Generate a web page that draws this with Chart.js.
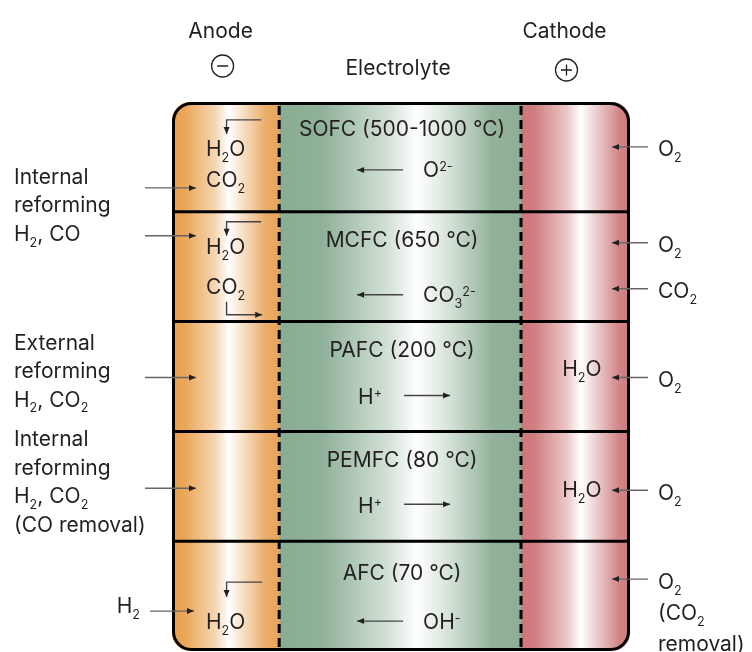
<!DOCTYPE html>
<html>
<head>
<meta charset="utf-8">
<script src="https://cdn.jsdelivr.net/npm/chart.js@4"></script>
<style>
    body { margin: 0; background: #fff; }
</style>
</head>
<body>
<canvas id="cells" width="752" height="652"></canvas>
<script>
// ─── Data ─────────────────────────────────────────────────────────────────────
const cellTypes = ['SOFC', 'MCFC', 'PAFC', 'PEMFC', 'AFC'];
const temperatures = ['500-1000 °C', '650 °C', '200 °C', '80 °C', '70 °C'];
const ions = ['O^{2-}', 'CO_3^{2-}', 'H^+', 'H^+', 'OH^-'];
const ionDirection = [-1, -1, 1, 1, -1];          // -1 = moves towards the anode
const layers = ['Anode', 'Electrolyte', 'Cathode'];
const anodeSpan = [0, 23.4];                      // share of cell width (%)
const electrolyteSpan = [23.4, 76.2];
const cathodeSpan = [76.2, 100];
const anodeProducts = [['H_2O', 'CO_2'], ['H_2O', 'CO_2'], [], [], ['H_2O']];
const co2Recycle = [false, true, false, false, false];
const cathodeFeeds = [['O_2'], ['O_2', 'CO_2'], ['O_2'], ['O_2'], ['O_2']];
const cathodeNotes = ['', '', '', '', '(CO_2 removal)'];
const cathodeProducts = ['', '', 'H_2O', 'H_2O', ''];
const feedLabels = [
    ['Internal', 'reforming', 'H_2, CO'],
    ['External', 'reforming', 'H_2, CO_2'],
    ['Internal', 'reforming', 'H_2, CO_2', '(CO removal)'],
    ['H_2']
];
const feedRows = [[0, 1], [2], [3], [4]];

// ─── Helpers ──────────────────────────────────────────────────────────────────
const INK = '#231f20';
const FONT = '"Inter", "Noto Sans", sans-serif';
const SIZE = 21;

function layerFill(stops) {
    return (c) => {
        const chart = c.chart;
        const span = c.dataset.data[c.dataIndex];
        if (!chart.chartArea || !span) return stops[0][1];
        const xs = chart.scales.x;
        const g = chart.ctx.createLinearGradient(xs.getPixelForValue(span[0]), 0, xs.getPixelForValue(span[1]), 0);
        stops.forEach(([o, col]) => g.addColorStop(o, col));
        return g;
    };
}

function parseChem(str) {
    const parts = [];
    let i = 0, buf = '';
    while (i < str.length) {
        const ch = str[i];
        if (ch === '_' || ch === '^') {
            if (buf) { parts.push({ t: buf, m: 'n' }); buf = ''; }
            let txt;
            if (str[i + 1] === '{') {
                const j = str.indexOf('}', i);
                txt = str.slice(i + 2, j);
                i = j + 1;
            } else {
                txt = str[i + 1];
                i += 2;
            }
            parts.push({ t: txt, m: ch === '_' ? 'sub' : 'sup' });
        } else { buf += ch; i++; }
    }
    if (buf) parts.push({ t: buf, m: 'n' });
    return parts;
}

// y = visual middle of the capitals
function chem(ctx, str, x, y, align = 'center', size = SIZE) {
    const parts = parseChem(str);
    const small = size * 0.6;
    const widths = parts.map(p => {
        ctx.font = `${p.m === 'n' ? size : small}px ${FONT}`;
        return ctx.measureText(p.t).width;
    });
    const total = widths.reduce((a, b) => a + b, 0);
    let cx = align === 'center' ? x - total / 2 : align === 'right' ? x - total : x;
    const base = y + size * 0.36;
    ctx.fillStyle = INK;
    ctx.textAlign = 'left';
    ctx.textBaseline = 'alphabetic';
    parts.forEach((p, k) => {
        ctx.font = `${p.m === 'n' ? size : small}px ${FONT}`;
        let by = base;
        if (p.m === 'sub') by = base + size * 0.28;
        if (p.m === 'sup') by = base - size * 0.32;
        ctx.fillText(p.t, cx, by);
        cx += widths[k];
    });
}

function arrow(ctx, pts, lineCol = '#444', headCol = INK) {
    ctx.save();
    ctx.strokeStyle = lineCol;
    ctx.lineWidth = 1.4;
    ctx.beginPath();
    ctx.moveTo(pts[0][0], pts[0][1]);
    pts.slice(1).forEach(p => ctx.lineTo(p[0], p[1]));
    ctx.stroke();
    const [x1, y1] = pts[pts.length - 1];
    const [x0, y0] = pts[pts.length - 2];
    const a = Math.atan2(y1 - y0, x1 - x0);
    ctx.fillStyle = headCol;
    ctx.beginPath();
    ctx.moveTo(x1, y1);
    ctx.lineTo(x1 - 7 * Math.cos(a) + 3 * Math.sin(a), y1 - 7 * Math.sin(a) - 3 * Math.cos(a));
    ctx.lineTo(x1 - 7 * Math.cos(a) - 3 * Math.sin(a), y1 - 7 * Math.sin(a) + 3 * Math.cos(a));
    ctx.closePath();
    ctx.fill();
    ctx.restore();
}

// ─── Frame + labels plugin ────────────────────────────────────────────────────
const RADIUS = 18;

const cellFrame = {
    id: 'cellFrame',
    beforeDatasetsDraw(chart) {
        const { ctx, chartArea: a } = chart;
        ctx.save();
        ctx.beginPath();
        ctx.roundRect(a.left, a.top, a.right - a.left, a.bottom - a.top, RADIUS);
        ctx.clip();
    },
    afterDatasetsDraw(chart) {
        const { ctx, chartArea: a } = chart;
        ctx.restore();
        const xs = chart.scales.x, ys = chart.scales.y;

        // row separators
        ctx.save();
        ctx.strokeStyle = '#000';
        ctx.lineWidth = 3;
        for (let i = 0; i < cellTypes.length - 1; i++) {
            const y = (ys.getPixelForValue(i) + ys.getPixelForValue(i + 1)) / 2;
            ctx.beginPath();
            ctx.moveTo(a.left, y);
            ctx.lineTo(a.right, y);
            ctx.stroke();
        }
        // dashed electrode / electrolyte boundaries
        ctx.setLineDash([9, 5]);
        [anodeSpan[1], cathodeSpan[0]].forEach(v => {
            const x = xs.getPixelForValue(v);
            ctx.beginPath();
            ctx.moveTo(x, a.top + 4);
            ctx.lineTo(x, a.bottom);
            ctx.stroke();
        });
        ctx.setLineDash([]);
        ctx.beginPath();
        ctx.roundRect(a.left + 1.5, a.top + 1.5, a.right - a.left - 3, a.bottom - a.top - 3, RADIUS);
        ctx.stroke();
        ctx.restore();
    },
    afterDraw(chart) {
        const { ctx, chartArea: a } = chart;
        const xs = chart.scales.x, ys = chart.scales.y;
        const aL = xs.getPixelForValue(anodeSpan[0]);
        const aR = xs.getPixelForValue(anodeSpan[1]);
        const aMid = (aL + aR) / 2;
        const eMid = (xs.getPixelForValue(electrolyteSpan[0]) + xs.getPixelForValue(electrolyteSpan[1])) / 2;
        const cMid = (xs.getPixelForValue(cathodeSpan[0]) + xs.getPixelForValue(cathodeSpan[1])) / 2;
        const cR = xs.getPixelForValue(cathodeSpan[1]);
        const cy = i => ys.getPixelForValue(i);

        // header
        chem(ctx, layers[0], aMid - 5, 30);
        chem(ctx, layers[1], eMid - 2, 67);
        chem(ctx, layers[2], cMid - 11, 30);
        ctx.save();
        ctx.strokeStyle = INK;
        ctx.lineWidth = 1.3;
        [[aMid - 3, 66, false], [cMid - 9, 70, true]].forEach(([x, y, plus]) => {
            ctx.beginPath();
            ctx.arc(x, y, 11, 0, Math.PI * 2);
            ctx.moveTo(x - 5.5, y);
            ctx.lineTo(x + 5.5, y);
            if (plus) { ctx.moveTo(x, y - 5.5); ctx.lineTo(x, y + 5.5); }
            ctx.stroke();
        });
        ctx.restore();

        const titleDy = [-28, -27, -27, -27, -24];
        const ionDy = [13, 28, 20, 19, 25];
        const feedDy = [31, -31, 1, 2, 15];
        const cathodeDy = [[-10], [-24, 22], [1], [4], [-17]];
        const cathodeOutDy = [0, 0, -8, 3, 0];

        cellTypes.forEach((name, i) => {
            const yc = cy(i);
            // electrolyte
            chem(ctx, `${name} (${temperatures[i]})`, eMid + 2, yc + titleDy[i]);
            const iy = yc + ionDy[i];
            if (ionDirection[i] < 0) {
                arrow(ctx, [[eMid + 3, iy], [eMid - 43, iy]]);
                chem(ctx, ions[i], eMid + 23, iy, 'left');
            } else {
                chem(ctx, ions[i], eMid - 30, iy, 'center');
                arrow(ctx, [[eMid + 4, iy - 1], [eMid + 50, iy - 1]]);
            }

            // anode products
            const prods = anodeProducts[i];
            if (prods.length === 2) {
                const top = co2Recycle[i] ? -45 : -37;
                const d1 = co2Recycle[i] ? -20 : -8;
                const d2 = co2Recycle[i] ? 20 : 23;
                arrow(ctx, [[aR - 18, yc + top], [aMid + 1, yc + top], [aMid + 1, yc + top + 14]]);
                chem(ctx, prods[0], aMid, yc + d1);
                chem(ctx, prods[1], aMid, yc + d2);
                if (co2Recycle[i]) {
                    arrow(ctx, [[aMid + 1, yc + 35], [aMid + 1, yc + 48], [aR - 17, yc + 48]]);
                }
            } else if (prods.length === 1) {
                arrow(ctx, [[aR - 17, yc - 14], [aMid + 1, yc - 14], [aMid + 1, yc + 1]]);
                chem(ctx, prods[0], aMid, yc + 25);
            }

            // cathode
            cathodeFeeds[i].forEach((f, k) => {
                const y = yc + cathodeDy[i][k];
                arrow(ctx, [[cR + 18, y], [cR - 18, y]], '#666');
                chem(ctx, f, cR + 28, y + 2, 'left');
                if (cathodeNotes[i]) {
                    const words = cathodeNotes[i].split(' ');
                    words.forEach((w, j) => chem(ctx, w, cR + 28, y + 2 + 31 * (j + 1), 'left'));
                }
            });
            if (cathodeProducts[i]) {
                chem(ctx, cathodeProducts[i], cMid + 26, yc + cathodeOutDy[i], 'right');
            }
        });

        // fuel feeds on the left
        feedLabels.forEach((lines, g) => {
            const arrowYs = feedRows[g].map(r => cy(r) + feedDy[r]);
            const mean = arrowYs.reduce((s, v) => s + v, 0) / arrowYs.length;
            if (lines.length === 1) {
                chem(ctx, lines[0], aL - 32, arrowYs[0] - 6, 'right');
                arrowYs.forEach(y => arrow(ctx, [[aL - 22, y], [aL + 22, y]], '#666'));
            } else {
                const step = 28.5;
                const first = mean - 7 - step * (lines.length - 1) / 2;
                lines.forEach((t, k) => chem(ctx, t, 14, first + step * k, 'left'));
                arrowYs.forEach(y => arrow(ctx, [[aL - 27, y], [aL + 24, y]], '#666'));
            }
        });
    }
};

// ─── Chart ────────────────────────────────────────────────────────────────────
const spanRows = span => cellTypes.map(() => span.slice());

new Chart(document.getElementById('cells').getContext('2d'), {
    type: 'bar',
    data: {
        labels: cellTypes,
        datasets: [
            {
                label: layers[0],
                data: spanRows(anodeSpan),
                backgroundColor: layerFill([[0, '#E9A04D'], [0.12, '#EAA658'], [0.4, '#F5D6B2'], [0.53, '#FFFFFF'], [0.88, '#EAAC66'], [1, '#E7A45A']])
            },
            {
                label: layers[1],
                data: spanRows(electrolyteSpan),
                backgroundColor: layerFill([[0, '#89AC92'], [0.18, '#90B199'], [0.45, '#D3E1D6'], [0.57, '#FFFFFF'], [0.7, '#D6E3D9'], [0.88, '#93B29B'], [1, '#8DAE96']])
            },
            {
                label: layers[2],
                data: spanRows(cathodeSpan),
                backgroundColor: layerFill([[0, '#CE777A'], [0.12, '#D07D80'], [0.42, '#ECC6C7'], [0.55, '#FFFFFF'], [0.9, '#D28588'], [1, '#CD7A7D']])
            }
        ].map(d => Object.assign(d, {
            grouped: false,
            barPercentage: 1,
            categoryPercentage: 1,
            borderWidth: 0,
            borderSkipped: false
        }))
    },
    options: {
        responsive: false,
        animation: false,
        events: [],
        indexAxis: 'y',
        layout: { padding: { left: 172, right: 122, top: 102, bottom: 1 } },
        plugins: { legend: { display: false }, tooltip: { enabled: false } },
        scales: {
            x: { type: 'linear', min: 0, max: 100, display: false },
            y: { display: false }
        }
    },
    plugins: [cellFrame]
});
</script>
</body>
</html>
